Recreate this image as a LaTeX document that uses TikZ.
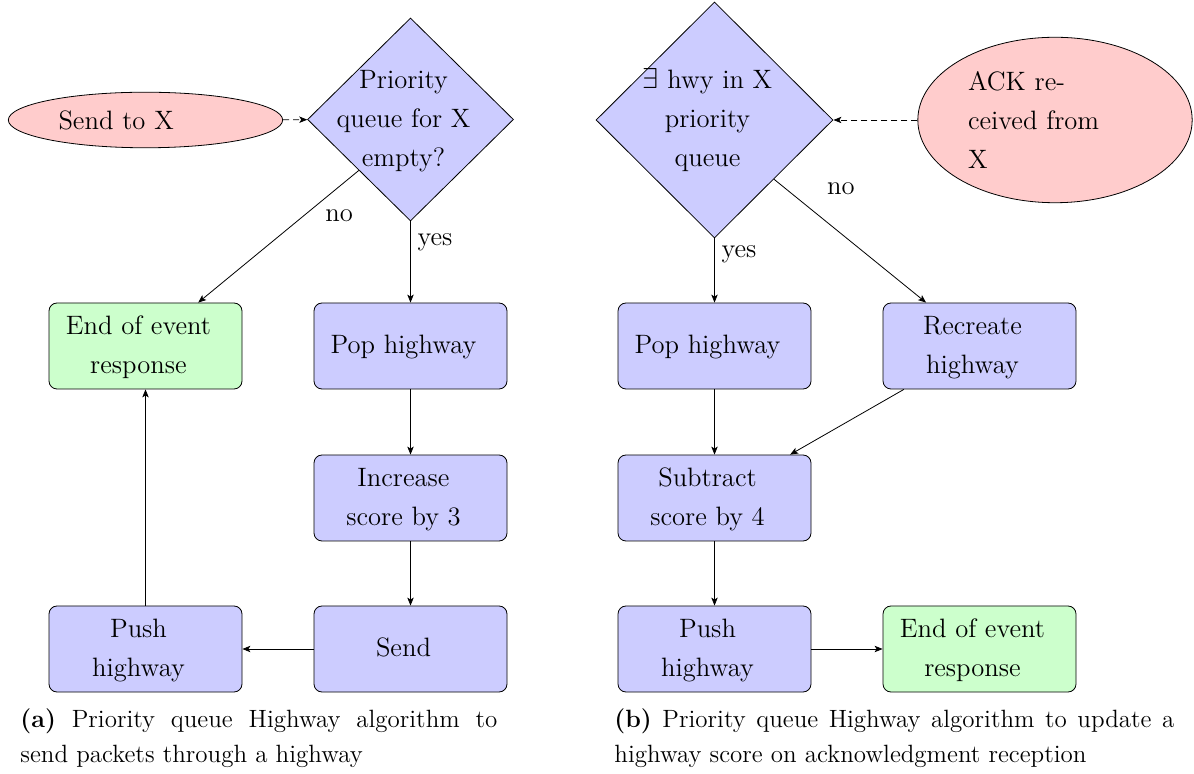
\documentclass[tikz,border=0pt]{standalone}
\usepackage{fontspec}
\usetikzlibrary{shapes.geometric,arrows.meta}
\newcommand\nodefont{\fontsize{13.3}{19.5}\selectfont}
\newcommand\capfont{\fontsize{12.5}{17.5}\selectfont}
\newcommand\btext[1]{\begin{tabular}{@{}c@{\hspace{7pt}}}#1\end{tabular}}
\newcommand\dtext[1]{\makebox[0pt]{\btext{#1}}}
\tikzset{
  proc/.style={draw, rounded corners=4pt, minimum width=96.5pt, minimum height=43pt,
    inner sep=0pt, fill=blue!20},
  endbox/.style={proc, fill=green!20},
  decision/.style={diamond, draw, fill=blue!20, inner sep=0pt},
  event/.style={ellipse, draw, fill=red!20, text width=87pt, align=left, inner sep=5pt},
  conn/.style={-{Stealth[length=4pt,width=3.2pt,inset=1pt]}},
  evarrow/.style={conn, dash pattern=on 3pt off 2pt},
  caption/.style={font=\capfont, inner sep=0pt, anchor=north west}
}
\begin{document}
\begin{tikzpicture}[x=0.5pt, y=-0.5pt, every node/.style={font=\nodefont}]
\useasboundingbox (0,0) rectangle (1194,774);

% ---------- (a) ----------
\node[event] (sendx) at (145.5,120) {Send to X};
\node[decision, minimum width=103pt, minimum height=101.5pt] (d1) at (410.5,119.5)
  {\dtext{Priority\\queue for X\\empty?}};
\node[endbox] (end1) at (145.5,346) {\btext{End of event\\response}};
\node[proc] (pop1) at (410.5,346) {\btext{Pop highway}};
\node[proc] (inc) at (410.5,498) {\btext{Increase\\score by 3}};
\node[proc] (snd) at (410.5,649) {\btext{Send}};
\node[proc] (push1) at (145.5,649) {\btext{Push\\highway}};

\draw[evarrow] (sendx) -- (d1);
\draw[conn] (d1.south west) -- (end1)
  node[pos=0.24, anchor=north west, xshift=-1pt] {no};
\draw[conn] (d1) -- (pop1) node[pos=0.26, right] {yes};
\draw[conn] (pop1) -- (inc);
\draw[conn] (inc) -- (snd);
\draw[conn] (snd) -- (push1);
\draw[conn] (push1) -- (end1);

% ---------- (b) ----------
\node[decision, minimum width=118.5pt, minimum height=118pt] (d2) at (714.5,120)
  {\dtext{$\exists$ hwy in X\\priority\\queue}};
\node[event] (ack) at (1055,120) {ACK re-\\ceived from\\X};
\node[proc] (pop2) at (714.5,346) {\btext{Pop highway}};
\node[proc] (rec) at (979.5,346) {\btext{Recreate\\highway}};
\node[proc] (sub) at (714.5,498) {\btext{Subtract\\score by 4}};
\node[proc] (push2) at (714.5,649) {\btext{Push\\highway}};
\node[endbox] (end2) at (979.5,649) {\btext{End of event\\response}};

\draw[evarrow] (ack) -- (d2);
\draw[conn] (d2.south east) -- (rec)
  node[pos=0.185, anchor=south west, xshift=9pt] {no};
\draw[conn] (d2) -- (pop2) node[pos=0.24, right] {yes};
\draw[conn] (pop2) -- (sub);
\draw[conn] (rec) -- (sub);
\draw[conn] (sub) -- (push2);
\draw[conn] (push2) -- (end2);

% ---------- captions ----------
\node[caption] (capa) at (20,702.5) {\begin{tabular}{@{}l@{}}
  \makebox[238.5pt][s]{\textbf{(a)} Priority queue Highway algorithm to}\\
  send packets through a highway\end{tabular}};
\node[caption] (capb) at (614,702.5) {\begin{tabular}{@{}l@{}}
  \makebox[280pt][s]{\textbf{(b)} Priority queue Highway algorithm to update a}\\
  highway score on acknowledgment reception\end{tabular}};
\end{tikzpicture}
\end{document}
